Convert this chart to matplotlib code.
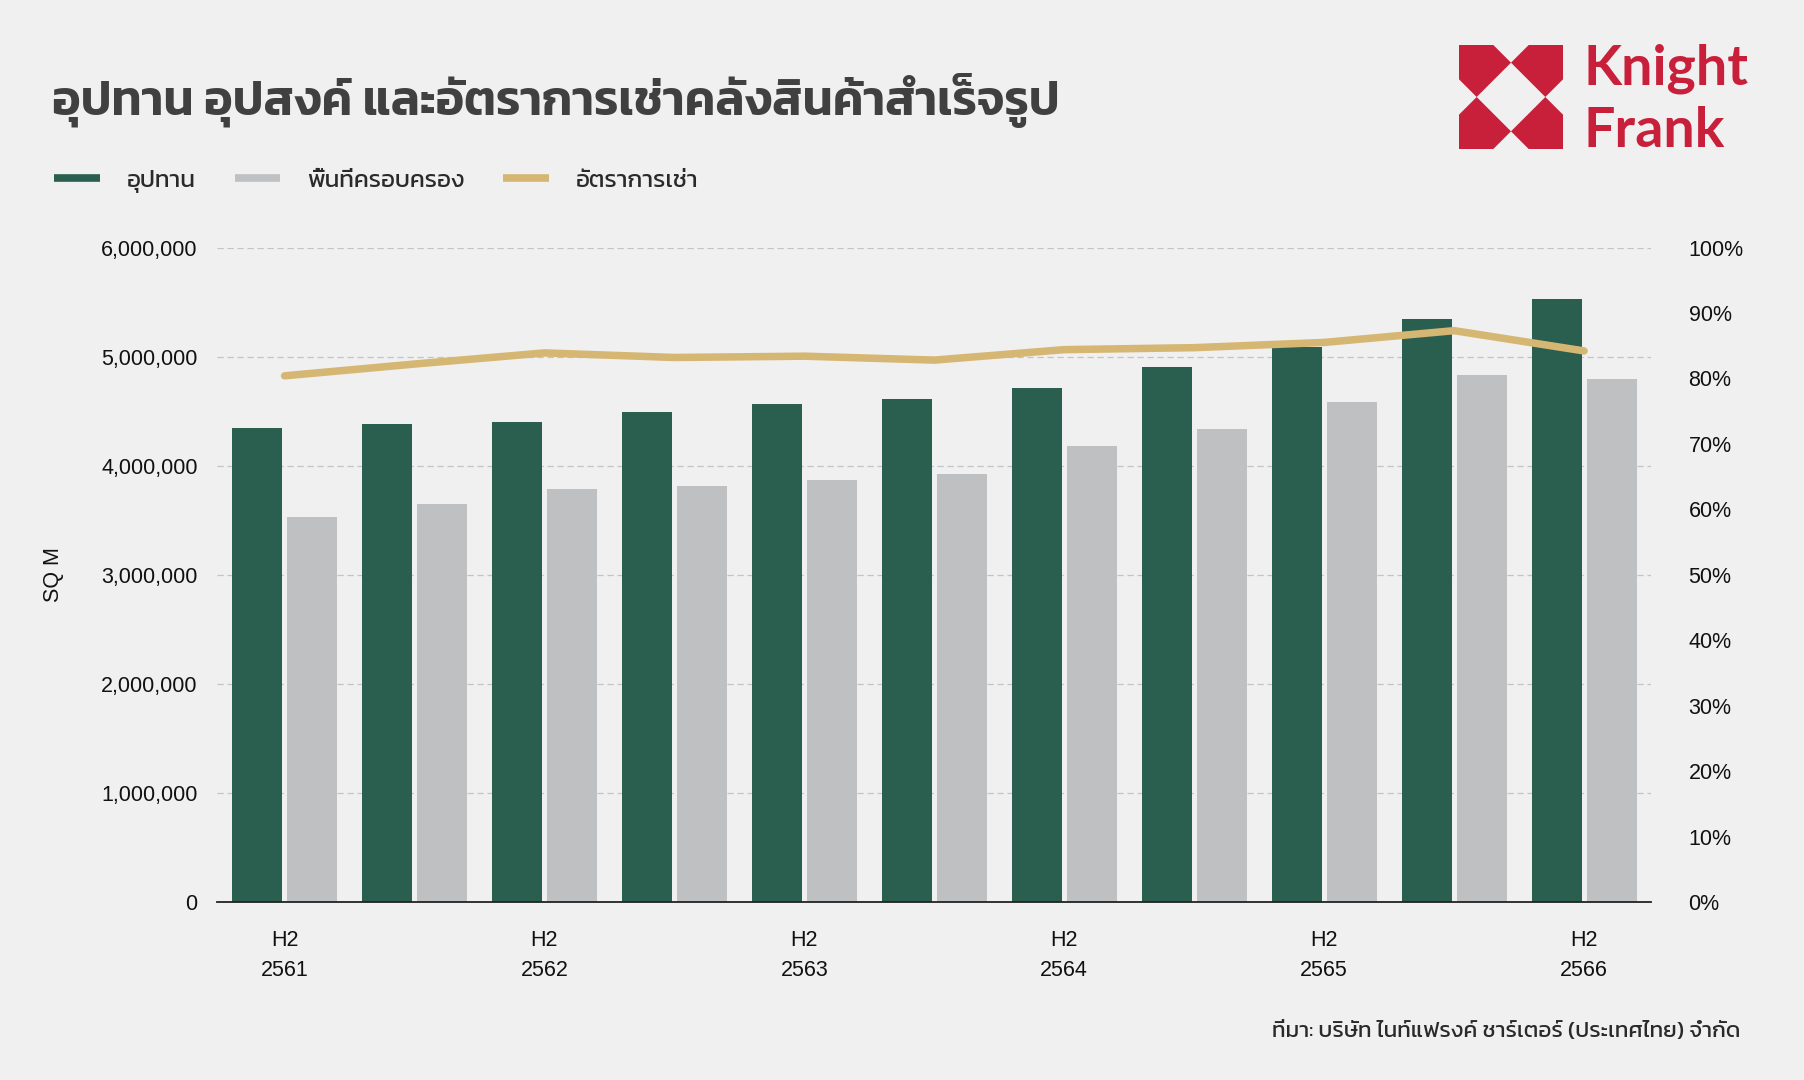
import matplotlib
matplotlib.use("Agg")
import matplotlib.pyplot as plt
from matplotlib.lines import Line2D
from matplotlib.patches import Polygon
from matplotlib.ticker import FuncFormatter, PercentFormatter
import numpy as np

# data
periods = ["H2 2561", "H1 2562", "H2 2562", "H1 2563", "H2 2563", "H1 2564",
           "H2 2564", "H1 2565", "H2 2565", "H1 2566", "H2 2566"]
supply = [4342000, 4380000, 4402000, 4494000, 4566000, 4608000,
          4714000, 4903000, 5085000, 5346000, 5527000]
occupied = [3530000, 3652000, 3785000, 3816000, 3870000, 3923000,
            4176000, 4334000, 4585000, 4830000, 4791000]
rent_rate = [80.4, 82.2, 83.9, 83.2, 83.4, 82.8, 84.4, 84.7, 85.5, 87.3, 84.2]
tick_labels = ["H2\n2561", "H2\n2562", "H2\n2563", "H2\n2564", "H2\n2565", "H2\n2566"]

series_names = ["อุปทาน", "พื้นที่ครอบครอง", "อัตราการเช่า"]
title = "อุปทาน อุปสงค์ และอัตราการเช่าคลังสินค้าสำเร็จรูป"
source = "ที่มา: บริษัท ไนท์แฟรงค์ ชาร์เตอร์ (ประเทศไทย) จำกัด"

GREEN = "#2a5f50"
GREY = "#bfc0c1"
GOLD = "#d6b673"
RED = "#c8203b"
BG = "#eff0ef"

thai_family = ["Kanit", "DejaVu Sans"]
plt.rcParams["font.family"] = ["Liberation Sans", "DejaVu Sans"]

fig = plt.figure(figsize=(18.04, 10.8), dpi=100, facecolor=BG)
ax = fig.add_axes([0.1203, 0.1648, 0.7949, 0.606])
ax.set_facecolor("none")
ax2 = ax.twinx()

x = np.arange(len(periods))
w = 0.385
off = 0.2115
ax.bar(x - off, supply, width=w, color=GREEN, zorder=2)
ax.bar(x + off, occupied, width=w, color=GREY, zorder=2)
ax2.plot(x, np.array(rent_rate) / 100, color=GOLD, lw=5.4, solid_capstyle="round",
         solid_joinstyle="round")

ax.set_xlim(-0.52, 10.515)
ax.set_ylim(0, 6000000)
ax.set_yticks(np.arange(0, 6000001, 1000000))
ax.yaxis.set_major_formatter(FuncFormatter(lambda v, p: f"{int(v):,}"))
ax2.set_ylim(0, 1)
ax2.set_yticks(np.arange(0, 1.001, 0.1))
ax2.yaxis.set_major_formatter(PercentFormatter(1.0, decimals=0))

ax.set_xticks(x[::2])
ax.set_xticklabels(tick_labels, linespacing=1.6)

ax.grid(axis="y", color="#c4c4c4", lw=0.9, ls=(0, (5, 3)))
ax.set_axisbelow(True)

for a in (ax, ax2):
    for s in a.spines.values():
        s.set_visible(False)
ax.spines["bottom"].set_visible(True)
ax.spines["bottom"].set_color("#222222")
ax.spines["bottom"].set_linewidth(1.3)
ax.spines["bottom"].set_zorder(5)

ax.tick_params(axis="y", length=0, pad=14, labelsize=15.5, labelcolor="#111111")
ax.tick_params(axis="x", length=0, pad=20, labelsize=15.5, labelcolor="#111111")
ax2.tick_params(axis="y", length=0, pad=27, labelsize=15.5, labelcolor="#111111")

ax.set_ylabel("SQ M", fontsize=15.5, color="#111111")
ax.yaxis.set_label_coords(-0.107, 0.5)

# title, legend, source
fig.text(0.0288, 0.9065, title, fontsize=34.8, fontweight="semibold", color="#404040",
         va="center", ha="left", family=thai_family)

handles = [Line2D([], [], color=c, lw=5.5, solid_capstyle="butt") for c in (GREEN, GREY, GOLD)]
leg = fig.legend(handles, series_names, loc="center left", bbox_to_anchor=(0.018, 0.832),
                 ncol=3, frameon=False, handlelength=1.88, handletextpad=1.1,
                 columnspacing=1.6,
                 prop={"family": thai_family, "size": 17.5, "weight": "normal"})
for t in leg.get_texts():
    t.set_color("#2a2a2a")

fig.text(0.965, 0.0454, source, fontsize=16.2, fontweight="normal", color="#2a2a2a",
         ha="right", va="center", family=thai_family)

# Knight Frank logo
lax = fig.add_axes([1459 / 1804, 1 - 149 / 1080, 104 / 1804, 104 / 1080])
lax.set_xlim(0, 1)
lax.set_ylim(0, 1)
lax.axis("off")
a, b, c = 0.33, 0.17, 0.5
pieces = [
    [(0, 1), (a, 1), (c, 1 - b), (b, c), (0, 1 - a)],
    [(1, 1), (1 - a, 1), (c, 1 - b), (1 - b, c), (1, 1 - a)],
    [(0, 0), (a, 0), (c, b), (b, c), (0, a)],
    [(1, 0), (1 - a, 0), (c, b), (1 - b, c), (1, a)],
]
for p in pieces:
    lax.add_patch(Polygon(p, closed=True, color=RED, lw=0))

fig.text(0.8775, 1 - 85 / 1080, "Knight", fontsize=40, fontweight="bold", color=RED,
         family="Lato", va="baseline", ha="left")
fig.text(0.8775, 1 - 147 / 1080, "Frank", fontsize=40, fontweight="bold", color=RED,
         family="Lato", va="baseline", ha="left")

fig.savefig("out.png", dpi=100, facecolor=BG)
